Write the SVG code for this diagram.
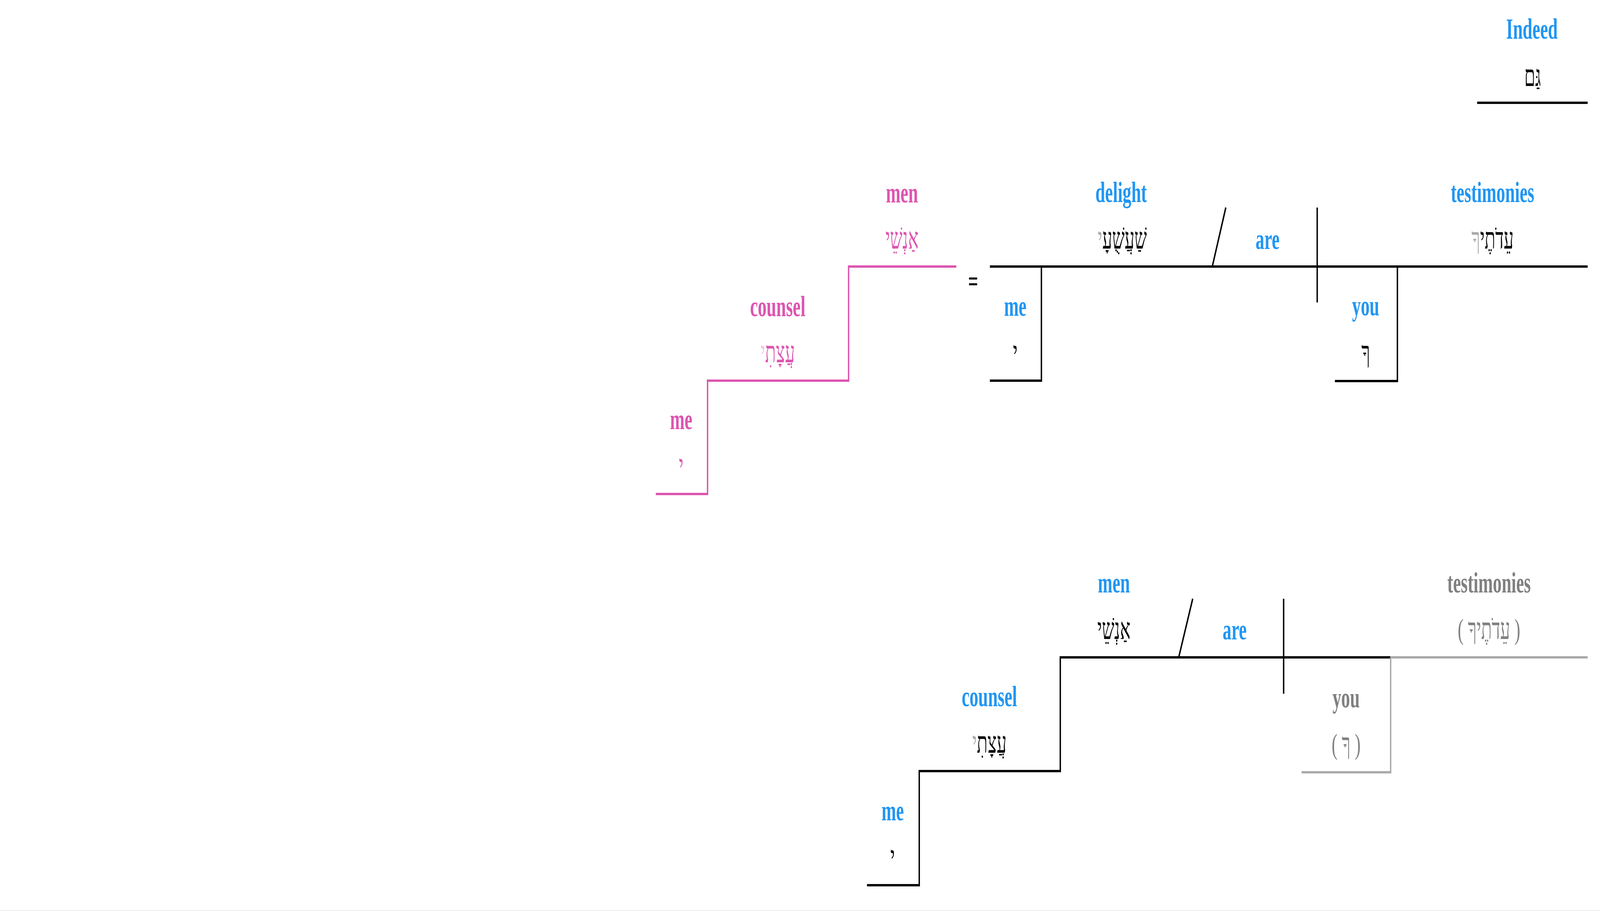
<svg xmlns="http://www.w3.org/2000/svg" width="6863" height="2331" viewBox="0 0 6863 2331" preserveAspectRatio="none" style="width:100vw;height:100vh;display:block">
<style>
.en{font-family:"Liberation Serif","Times New Roman",serif;font-weight:bold;font-size:75px;text-anchor:middle}
.he{font-family:"Liberation Serif","DejaVu Sans",serif;font-size:75px;text-anchor:middle}
.blue{fill:#2196F3}
.pink{fill:#DD55B0}
.lpink{fill:#F2C4E2}
.blk{fill:#000000}
.gtxt{fill:#808080}
.gsuf{fill:#AAAAAA}
.ln{fill:none;stroke:#000000;stroke-width:6}
.lnp{fill:none;stroke:#DD55B0;stroke-width:6}
.lng{fill:none;stroke:#AAAAAA;stroke-width:6}
</style>
<rect x="0" y="0" width="6863" height="2331" fill="#ffffff"/>
<rect x="0" y="2329" width="6863" height="2" fill="#EEEEEE"/>
<g id="connectors">
<path class="ln" d="M6336 263 H6810"/>
<path class="lnp" d="M4102 682 H3640 V974 H3035 V1264 H2813"/>
<path class="ln" d="M4246 682 H6810"/>
<path class="ln" d="M4467 682 V974 H4246"/>
<path class="ln" d="M5200 682 L5258 531"/>
<path class="ln" d="M5650 531 V774"/>
<path class="ln" d="M5994 682 V975 H5726"/>
<path class="ln" d="M5964 1682 H4548 V1973 H3943 V2265 H3719"/>
<path class="ln" d="M5056 1682 L5116 1532"/>
<path class="ln" d="M5506 1532 V1775"/>
<path class="lng" d="M5964 1682 H6810"/>
<path class="lng" d="M5965 1682 V1976 H5583"/>
</g>
<g id="indeed">
<text class="en blue" x="6571" y="99">Indeed</text>
<text class="he blk" x="6574" y="220">גַּם</text>
</g>
<g id="men1">
<text class="en pink" x="3869" y="518">men</text>
<text class="he pink" x="3869" y="636">אַנְשֵׁי</text>
</g>
<g id="counsel1">
<text class="en pink" x="3336" y="809">counsel</text>
<text class="he pink" x="3336" y="927">עֲצָתִ<tspan class="lpink">י</tspan></text>
</g>
<g id="me1">
<text class="en pink" x="2922" y="1098">me</text>
<text class="he pink" x="2922" y="1217">י</text>
</g>
<g id="equals">
<text class="en blk" x="4174" y="745">=</text>
</g>
<g id="delight">
<text class="en blue" x="4809" y="517">delight</text>
<text class="he blk" x="4814" y="636">שַׁעֲשֻׁעָ<tspan class="gsuf">י</tspan></text>
</g>
<g id="me2">
<text class="en blue" x="4355" y="808">me</text>
<text class="he blk" x="4355" y="927">י</text>
</g>
<g id="are1">
<text class="en blue" x="5437" y="637">are</text>
</g>
<g id="testimonies1">
<text class="en blue" x="6402" y="517">testimonies</text>
<text class="he blk" x="6402" y="636">עֵדֹתֶי<tspan class="gsuf">ךָ</tspan></text>
</g>
<g id="you1">
<text class="en blue" x="5858" y="807">you</text>
<text class="he blk" x="5858" y="927">ךָ</text>
</g>
<g id="men2">
<text class="en blue" x="4778" y="1516">men</text>
<text class="he blk" x="4778" y="1635">אַנְשֵׁי</text>
</g>
<g id="counsel2">
<text class="en blue" x="4244" y="1807">counsel</text>
<text class="he blk" x="4244" y="1926">עֲצָתִ<tspan class="gsuf">י</tspan></text>
</g>
<g id="me3">
<text class="en blue" x="3829" y="2099">me</text>
<text class="he blk" x="3829" y="2218">י</text>
</g>
<g id="are2">
<text class="en blue" x="5296" y="1636">are</text>
</g>
<g id="testimonies2">
<text class="en gtxt" x="6387" y="1516">testimonies</text>
<text class="he gtxt" x="6387" y="1635">( עֵדֹתֶיךָ )</text>
</g>
<g id="you2">
<text class="en gtxt" x="5774" y="1810">you</text>
<text class="he gtxt" x="5774" y="1929">( ךָ )</text>
</g>
</svg>
